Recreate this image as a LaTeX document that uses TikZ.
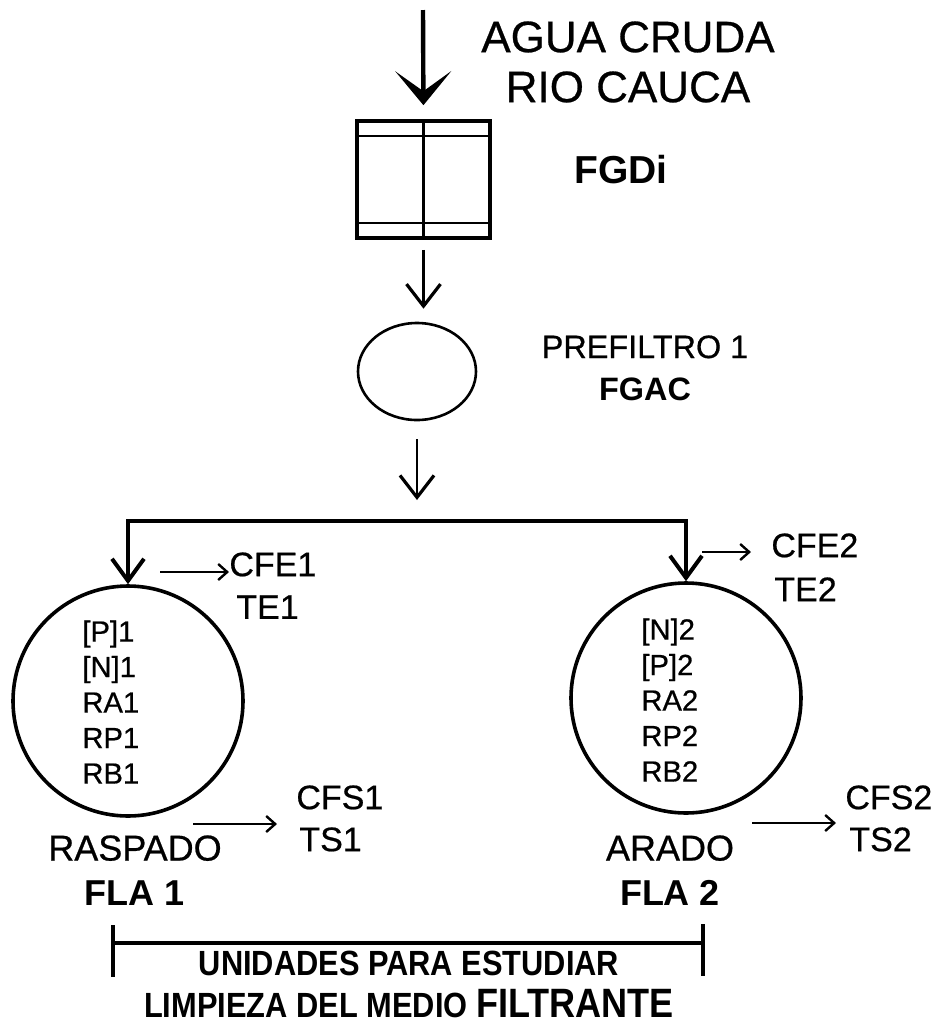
\documentclass[tikz,border=0pt]{standalone}
\usepackage{fontspec}
\setmainfont{Liberation Sans}[UprightFeatures={FakeBold=0.6}]
\usetikzlibrary{arrows.meta,shapes.geometric}
\tikzset{
  txt/.style={inner sep=0pt,font=\fontsize{17}{21.5}\selectfont},
  bigtxt/.style={inner sep=0pt,align=center,font=\fontsize{22}{25}\selectfont},
  intxt/.style={inner sep=0pt,align=left,font=\fontsize{14.6}{17.75}\selectfont},
  filterbox/.style={rectangle,draw,line width=1.8pt,minimum width=66.5pt,minimum height=58.5pt,inner sep=0pt,
    path picture={
      \draw[line width=1.4pt] ([yshift=-7.5pt]path picture bounding box.north west) -- ([yshift=-7.5pt]path picture bounding box.north east);
      \draw[line width=1.4pt] ([yshift=7.5pt]path picture bounding box.south west) -- ([yshift=7.5pt]path picture bounding box.south east);
      \draw[line width=1.4pt] (path picture bounding box.north) -- (path picture bounding box.south);}},
  prefnode/.style={ellipse,draw,line width=1.3pt,minimum width=59pt,minimum height=48.5pt,inner sep=0pt},
  flanode/.style={circle,draw,line width=1.8pt,minimum size=115pt,inner sep=0pt},
  inarr/.style={-{Stealth[length=17pt,width=28pt,inset=10pt]},line width=2.2pt},
  arr/.style={-{Straight Barb[length=11pt,width=17pt,line width=1.6pt]},line width=1.1pt},
  splitarr/.style={-{Straight Barb[length=11pt,width=16pt,line width=2pt]},line width=1.7pt},
  smallarr/.style={-{Straight Barb[length=4.5pt,width=8pt,line width=1.2pt]},line width=1.2pt},
  brline/.style={line width=1.9pt}
}
\begin{document}
\begin{tikzpicture}[x=0.5pt,y=-0.5pt]
  \useasboundingbox (0,0) rectangle (952,1024);

  \coordinate (crudo) at (423,10);
  \node[filterbox] (fgdi) at (423.5,179.5) {};
  \node[bigtxt,anchor=north] (agua) at (628,21) {AGUA CRUDA\\RIO CAUCA};
  \node[inner sep=0pt,font=\fontsize{19.5}{22}\selectfont\bfseries] (fgdilbl) at (621,170) {FGDi};

  \node[prefnode] (fgac) at (417,371.5) {};
  \node[inner sep=0pt,align=center,anchor=north,font=\fontsize{16.2}{21}\selectfont] (preflbl) at (645,335)
      {PREFILTRO 1\\\textbf{FGAC}};

  \coordinate (split) at (421,521);
  \node[flanode] (fla1) at (128,701) {};
  \node[flanode] (fla2) at (686,698) {};
  \node[intxt,anchor=west] (par1) at (82,702) {[P]1\\{}[N]1\\RA1\\RP1\\RB1};
  \node[intxt,anchor=west] (par2) at (641,700) {[N]2\\{}[P]2\\RA2\\RP2\\RB2};

  \node[txt,anchor=north west] (cfe1) at (229,552) {CFE1};
  \node[txt,anchor=north west] (te1) at (236,595) {TE1};
  \node[txt,anchor=north west] (cfe2) at (771,533) {CFE2};
  \node[txt,anchor=north west] (te2) at (774,577) {TE2};
  \node[txt,anchor=north west] (cfs1) at (296,785) {CFS1};
  \node[txt,anchor=north west] (ts1) at (299,827) {TS1};
  \node[txt,anchor=north west] (cfs2) at (845,785) {CFS2};
  \node[txt,anchor=north west] (ts2) at (849,827) {TS2};

  \node[inner sep=0pt,align=center,anchor=north,font=\fontsize{18}{22.5}\selectfont] (rasp) at (135,835)
      {RASPADO\\\textbf{FLA 1}};
  \node[inner sep=0pt,align=center,anchor=north,font=\fontsize{18}{22.5}\selectfont] (arad) at (670,835)
      {ARADO\\\textbf{FLA 2}};

  \coordinate (brL) at (113,943);
  \coordinate (brR) at (703,943);
  \draw[brline] (brL) -- (brR);
  \draw[brline] (113,925) -- (113,977);
  \draw[brline] (703,924) -- (703,976);
  \node[inner sep=0pt,align=center,anchor=north,font=\fontsize{17.5}{21}\selectfont\bfseries] (unid) at (409,951)
      {\scalebox{0.88}[1]{UNIDADES PARA ESTUDIAR}\\
       \scalebox{0.88}[1]{LIMPIEZA DEL MEDIO {\fontsize{20.5}{21}\selectfont FILTRANTE}}};

  \draw[inarr,shorten >=7pt] (crudo) -- (fgdi.north);
  \draw[arr,shorten <=5pt,shorten >=6.5pt] (fgdi.south) -- (fgdi.south |- fgac.north);
  \draw[arr,shorten <=9pt,shorten >=10.5pt] (fgac.south) -- (fgac.south |- split);
  \draw[splitarr] (split) -| (fla1.north);
  \draw[splitarr] (split) -| (fla2.north);

  \coordinate (e1) at (160,572);
  \coordinate (e2) at (702,552);
  \coordinate (s1) at (193,824);
  \coordinate (s2) at (752,823);
  \draw[smallarr] (e1) -- (e1 -| cfe1.west);
  \draw[smallarr,shorten >=10pt] (e2) -- (e2 -| cfe2.west);
  \draw[smallarr,shorten >=11pt] (s1) -- (s1 -| ts1.west);
  \draw[smallarr,shorten >=6.5pt] (s2) -- (s2 -| ts2.west);
\end{tikzpicture}
\end{document}
